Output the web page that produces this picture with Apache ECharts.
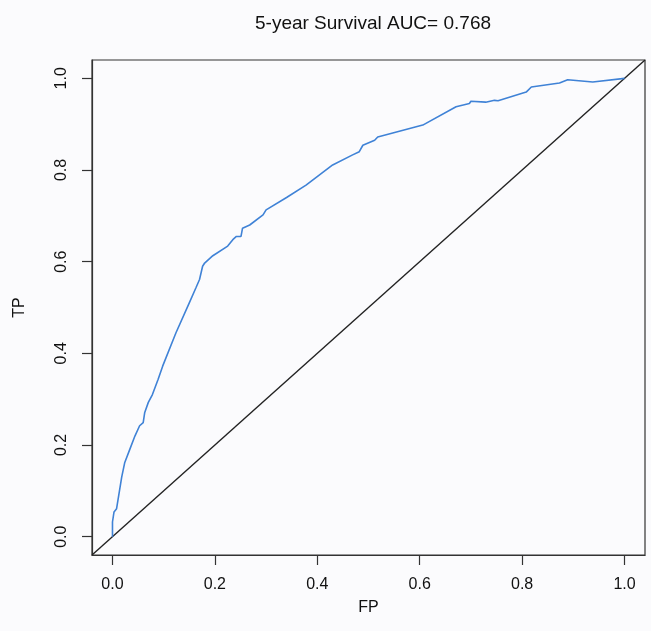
<!DOCTYPE html>
<html>
<head>
<meta charset="utf-8">
<script src="https://cdn.jsdelivr.net/npm/echarts@6/dist/echarts.min.js"></script>
<style>
  html, body { margin: 0; padding: 0; background: #fbfbfd; }
  #chart { width: 651px; height: 631px; }
</style>
</head>
<body>
<div id="chart"></div>
<script>
// ROC curve
var fp = [0, 0, 0.003, 0.008, 0.018, 0.024, 0.034, 0.044, 0.053, 0.06, 0.063, 0.07, 0.078, 0.089,
          0.098, 0.124, 0.150, 0.163, 0.170, 0.176, 0.180, 0.183, 0.196, 0.225, 0.235, 0.242, 0.251,
          0.254, 0.268, 0.294, 0.300, 0.340, 0.378, 0.430, 0.469, 0.482, 0.489, 0.512, 0.518, 0.606,
          0.671, 0.697, 0.700, 0.729, 0.746, 0.753, 0.808, 0.818, 0.873, 0.889, 0.938, 1.0];
var tp = [0, 0.032, 0.054, 0.061, 0.13, 0.162, 0.191, 0.22, 0.242, 0.249, 0.271, 0.293, 0.31, 0.343,
          0.372, 0.445, 0.510, 0.543, 0.561, 0.590, 0.597, 0.594, 0.613, 0.634, 0.648, 0.655, 0.655,
          0.673, 0.680, 0.702, 0.713, 0.740, 0.767, 0.811, 0.833, 0.840, 0.854, 0.865, 0.872, 0.898,
          0.938, 0.945, 0.950, 0.948, 0.952, 0.951, 0.970, 0.981, 0.990, 0.997, 0.992, 1.0];
var ticks = [0, 0.2, 0.4, 0.6, 0.8, 1.0];
var auc = '0.768';

var font = 'Liberation Sans, Arial, sans-serif';
var curve = fp.map(function (v, i) { return [v, tp[i]]; });

function axis(name, isY) {
  return {
    type: 'value',
    min: -0.04, max: 1.04,
    name: name,
    nameLocation: 'middle',
    nameGap: isY ? 64 : 45,
    nameTextStyle: { fontFamily: font, fontSize: 16, color: '#111' },
    axisLine: { show: true, onZero: false, lineStyle: { color: '#333', width: 1.2 } },
    axisTick: { show: true, inside: false, length: 10, lineStyle: { color: '#333', width: 1.2 }, customValues: ticks },
    axisLabel: {
      customValues: ticks, rotate: isY ? 90 : 0, margin: 22,
      fontFamily: font, fontSize: 16, color: '#111',
      formatter: function (v) { return v.toFixed(1); }
    },
    splitLine: { show: false }
  };
}

var chart = echarts.init(document.getElementById('chart'));
chart.setOption({
  backgroundColor: '#fbfbfd',
  animation: false,
  title: {
    text: '5-year Survival AUC= ' + auc,
    left: 368, top: 9, textAlign: 'center',
    textStyle: { fontFamily: font, fontSize: 19, fontWeight: 'normal', color: '#111' }
  },
  grid: { left: 92, right: 6, top: 60, bottom: 76, show: true, borderColor: '#333', borderWidth: 1.2, backgroundColor: 'transparent' },
  xAxis: axis('FP', false),
  yAxis: axis('TP', true),
  series: [
    {
      type: 'line', data: curve, showSymbol: false, smooth: false,
      lineStyle: { color: '#3f82d6', width: 1.6 }, z: 3
    },
    {
      type: 'line', data: [[-0.04, -0.04], [1.04, 1.04]], showSymbol: false,
      lineStyle: { color: '#222', width: 1.4 }, z: 2
    }
  ]
});
</script>
</body>
</html>
